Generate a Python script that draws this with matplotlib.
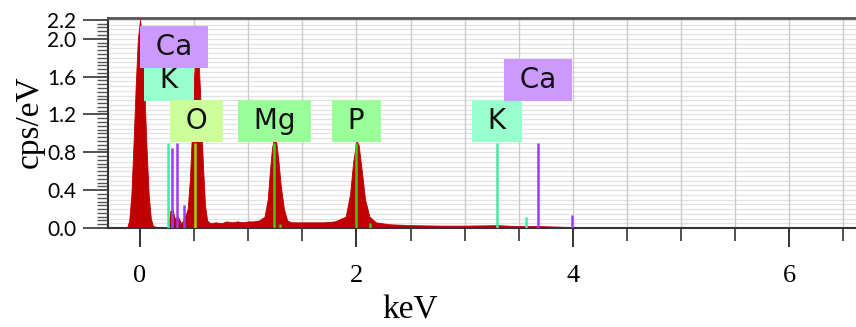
import matplotlib.pyplot as plt
import numpy as np
from matplotlib.ticker import MultipleLocator

# spectrum (keV, cps/eV)
energy = [-0.30, -0.12, -0.10, -0.08, -0.06, -0.04, -0.02, 0.00, 0.02, 0.04, 0.06,
          0.08, 0.10, 0.12, 0.20, 0.26, 0.28, 0.30, 0.32, 0.35, 0.38, 0.41, 0.44,
          0.46, 0.48, 0.50, 0.52, 0.54, 0.56, 0.58, 0.60, 0.62, 0.65, 0.70, 0.75,
          0.80, 0.85, 0.90, 0.95, 1.00, 1.05, 1.10, 1.15, 1.18, 1.20, 1.22, 1.24,
          1.26, 1.28, 1.30, 1.33, 1.36, 1.40, 1.50, 1.60, 1.70, 1.80, 1.90, 1.94,
          1.97, 2.00, 2.02, 2.05, 2.08, 2.12, 2.18, 2.30, 2.50, 2.80, 3.00, 3.30,
          3.50, 3.70, 4.00, 4.50, 5.00, 6.00, 6.70]
cps = [0.0, 0.0, 0.08, 0.35, 0.9, 1.5, 2.0, 2.2, 2.0, 1.45, 0.85,
       0.35, 0.1, 0.02, 0.0, 0.0, 0.18, 0.2, 0.1, 0.12, 0.05, 0.1, 0.2,
       0.5, 1.0, 1.6, 1.95, 1.8, 1.3, 0.7, 0.25, 0.08, 0.05, 0.06, 0.05,
       0.07, 0.06, 0.07, 0.06, 0.07, 0.07, 0.08, 0.12, 0.3, 0.6, 0.85, 0.95,
       0.9, 0.7, 0.45, 0.2, 0.08, 0.06, 0.06, 0.06, 0.06, 0.07, 0.12, 0.35,
       0.7, 0.92, 0.88, 0.6, 0.3, 0.12, 0.06, 0.04, 0.03, 0.025, 0.025, 0.03,
       0.02, 0.02, 0.01, 0.01, 0.005, 0.005, 0.0]

# element marker lines
line_energy = [0.262, 0.30, 0.34, 0.41, 0.51, 1.24, 1.29, 2.00, 2.13, 3.30, 3.57, 3.68, 3.99]
line_height = [0.90, 0.85, 0.90, 0.24, 0.90, 0.90, 0.04, 0.90, 0.05, 0.90, 0.12, 0.90, 0.14]
line_element = ['K', 'Ca', 'Ca', 'Ca', 'O', 'Mg', 'Mg', 'P', 'P', 'K', 'K', 'Ca', 'Ca']

# element labels
label_text = ['K', 'Ca', 'O', 'Mg', 'P', 'K', 'Ca']
label_energy = [0.27, 0.31, 0.52, 1.24, 2.00, 3.30, 3.68]
label_level = [1.56, 1.91, 1.13, 1.13, 1.13, 1.13, 1.56]

line_colors = {'Ca': '#9b3cf5', 'K': '#3cf0a0', 'O': '#a8d400', 'Mg': '#3ccc1e', 'P': '#3ccc1e'}
box_colors = {'Ca': '#cc99ff', 'K': '#99ffcc', 'O': '#ccff99', 'Mg': '#99ff99', 'P': '#99ff99'}

fig = plt.figure(figsize=(8.56, 3.27), dpi=100)
ax = fig.add_axes([108 / 856, 99 / 327, 748 / 856, 210 / 327])

ax.fill_between(energy, cps, 0, color='#c00000', lw=0.6, zorder=2)
for e, h, el in zip(line_energy, line_height, line_element):
    ax.vlines(e, 0, h, color=line_colors[el], lw=1.8, zorder=3)

for i, (t, e, lv) in enumerate(zip(label_text, label_energy, label_level)):
    ax.text(e, lv, ' ' + t + ' ', ha='center', va='center', fontsize=20,
            family='DejaVu Sans', color='#111111', zorder=5 + i,
            bbox=dict(boxstyle='square,pad=0.25', fc=box_colors[t], ec='none'))

ax.set_xlim(-0.296, 6.617)
ax.set_ylim(0, 2.22)

ax.set_yticks([0.0, 0.4, 0.8, 1.2, 1.6, 2.0, 2.2])
ax.set_yticklabels(['0.0', '0.4', '0.8', '1.2', '1.6', '2.0', '2.2'], family='Lato', fontsize=15)
ax.yaxis.set_minor_locator(MultipleLocator(0.04))
ax.set_xticks([0, 2, 4, 6])
ax.set_xticklabels(['0', '2', '4', '6'], family='Liberation Serif', fontsize=19)
ax.xaxis.set_minor_locator(MultipleLocator(0.5))
ax.tick_params(axis='y', which='major', length=18, width=1.2, color='#333333', pad=5)
ax.tick_params(axis='y', which='minor', length=8, width=1.0, color='#555555')
ax.tick_params(axis='x', which='major', length=14, width=1.4, color='#333333', pad=13)
ax.tick_params(axis='x', which='minor', length=9, width=1.2, color='#333333')

for y in np.arange(0.05, 2.22, 0.05):
    ax.axhline(y, color='#e2e2e2', lw=0.9, zorder=0)
for x in np.arange(0, 6.7, 0.5):
    ax.axvline(x, color='#cccccc', lw=1.0, zorder=1)

ax.spines['right'].set_visible(False)
ax.spines['top'].set_color('#555555')
ax.spines['top'].set_linewidth(2)
ax.spines['left'].set_color('#333333')
ax.spines['bottom'].set_color('#333333')
ax.spines['left'].set_linewidth(1.5)
ax.spines['bottom'].set_linewidth(1.5)

fig.text(30 / 856, 1 - 122 / 327, 'cps/eV', rotation=90, ha='center', va='center',
         family='Liberation Serif', fontsize=24)
fig.text(410 / 856, 1 - 310 / 327, 'keV', ha='center', va='center',
         family='Liberation Serif', fontsize=24)

fig.savefig('out.png', dpi=100)
